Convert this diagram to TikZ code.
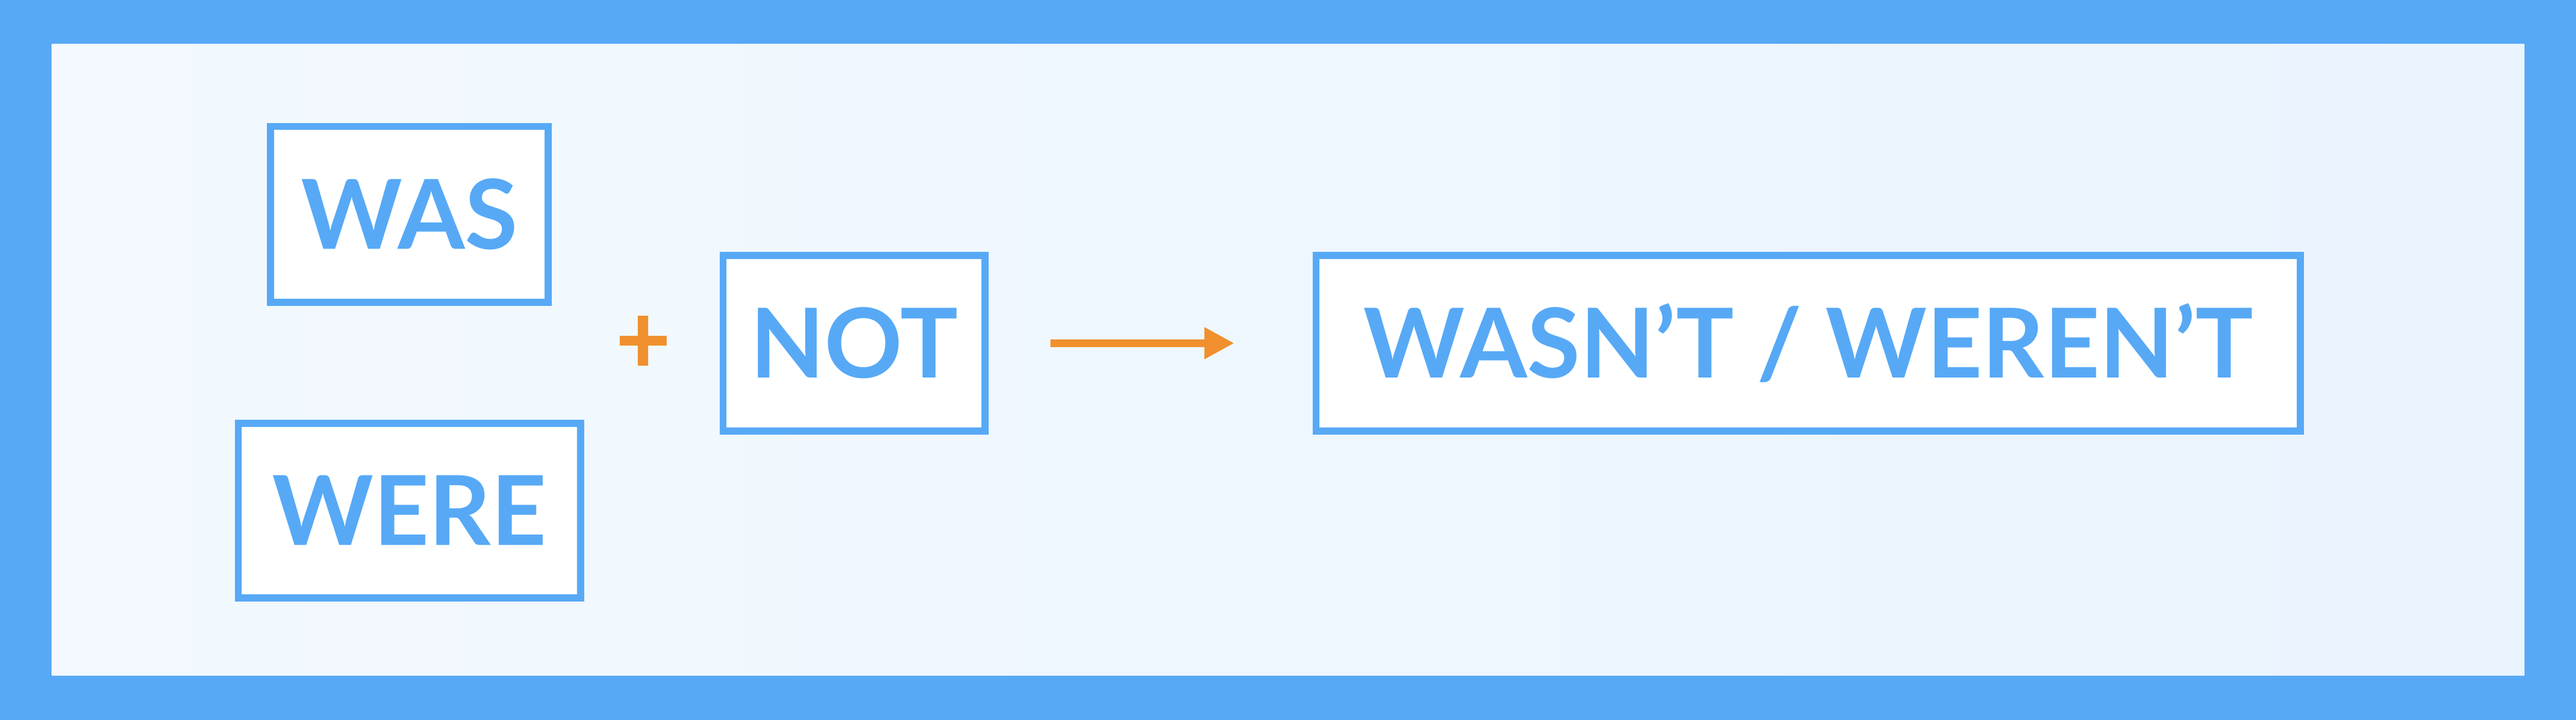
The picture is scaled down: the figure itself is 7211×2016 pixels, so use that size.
\documentclass[tikz,border=0pt]{standalone}
\usepackage{fontspec}
\setmainfont{Lato}
\usetikzlibrary{arrows.meta}
\definecolor{bblue}{RGB}{87,169,246}
\definecolor{borange}{RGB}{240,144,47}
\definecolor{bgA}{RGB}{243,249,254}
\definecolor{bgB}{RGB}{234,244,254}
\begin{document}
\begin{tikzpicture}[x=0.1pt,y=-0.1pt,
  wordbox/.style={draw=bblue,line width=2pt,fill=white,inner sep=0pt,
    text=bblue,font=\fontsize{27}{27}\selectfont\bfseries,
    text height=19.4pt,text depth=0pt,align=center},
  arrowline/.style={draw=borange,line width=2.1pt,-{Triangle[length=8.4pt,width=8.4pt]}}]
\useasboundingbox (0,0) rectangle (7211,2016);
\fill[bblue] (0,0) rectangle (7211,2016);
\shade[shading angle=60,left color=bgA,right color=bgB] (145,124) rectangle (7066,1891);
\node[wordbox,minimum width=77.8pt,minimum height=49.2pt] (was) at (1146,600) {WAS};
\node[wordbox,minimum width=95.8pt,minimum height=49pt] (were) at (1146,1430) {WERE};
\node[wordbox,minimum width=73.4pt,minimum height=49.1pt] (not) at (2391,961) {NOT};
\node[wordbox,minimum width=275.6pt,minimum height=49.1pt] (res) at (5062,961) {WASN’T / WEREN’T};
\coordinate (plus) at (1800,954);
\draw[borange,line width=2.8pt] ([xshift=-6.55pt]plus) -- ([xshift=6.55pt]plus);
\draw[borange,line width=2.8pt] ([yshift=7.05pt]plus) -- ([yshift=-7.05pt]plus);
\draw[arrowline] ([xshift=17.3pt]not.east) -- ([xshift=-21.9pt]res.west);
\end{tikzpicture}
\end{document}
